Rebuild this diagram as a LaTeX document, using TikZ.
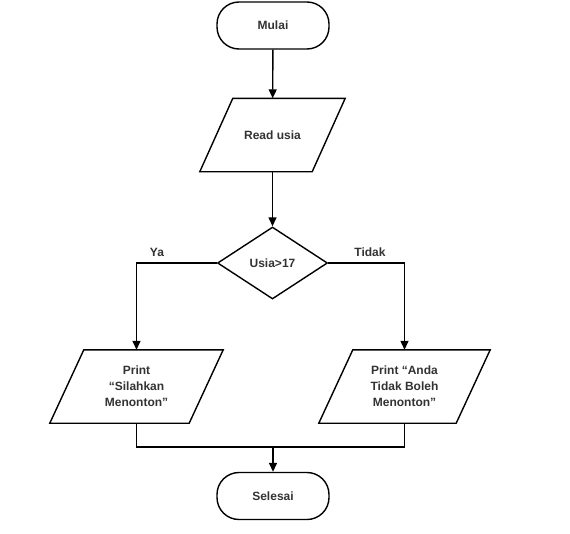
\documentclass[tikz,border=0pt]{standalone}
\usepackage{fontspec}
\setmainfont{Liberation Sans}
\usetikzlibrary{arrows.meta,shapes.geometric,calc}
\definecolor{txt}{HTML}{333333}
\tikzset{
  x=1pt, y=-1pt,
  every node/.style={font=\bfseries\fontsize{12}{16}\selectfont, text=txt, align=center},
  term/.style={draw, line width=1.4pt, rounded corners=22pt, minimum width=112pt, minimum height=47pt},
  iobody/.style={minimum height=73pt, inner sep=0pt},
  decbox/.style={draw, line width=1.4pt, diamond, minimum width=110pt, minimum height=72pt, aspect=1.53, inner sep=0pt},
  conn/.style={line width=1.4pt, -{Triangle[length=9pt,width=8pt]}},
  plain/.style={line width=1.4pt},
  para/.style={draw, line width=1.4pt, line join=miter}
}
\begin{document}
\begin{tikzpicture}
\useasboundingbox[fill=white] (0,0) rectangle (570,533);
\node[term] (start) at (273,25.5) {Mulai};
\node[iobody, minimum width=112pt] (read) at (272.5,135) {Read usia};
\draw[para] ($(read.north west)+(16.5,0)$) -- ($(read.north east)+(16.5,0)$) -- ($(read.south east)+(-16.5,0)$) -- ($(read.south west)+(-16.5,0)$) -- cycle;
\node[decbox] (dec) at (272.5,263) {Usia>17};
\node[iobody, minimum width=139pt] (yes) at (136.5,386.5) {Print\\“Silahkan\\Menonton”};
\draw[para] ($(yes.north west)+(17,0)$) -- ($(yes.north east)+(17,0)$) -- ($(yes.south east)+(-17,0)$) -- ($(yes.south west)+(-17,0)$) -- cycle;
\node[iobody, minimum width=137pt] (no) at (404.5,386.5) {Print “Anda\\Tidak Boleh\\Menonton”};
\draw[para] ($(no.north west)+(17,0)$) -- ($(no.north east)+(17,0)$) -- ($(no.south east)+(-17,0)$) -- ($(no.south west)+(-17,0)$) -- cycle;
\node[term] (end) at (273,496) {Selesai};
\coordinate (m) at (273,447);
\draw[conn] (start) -- (read);
\draw[conn] (read) -- (dec);
\draw[conn] (dec.west) -| (yes.north);
\draw[conn] (dec.east) -| (no.north);
\draw[plain] (yes.south) |- (m) -| (no.south);
\draw[conn] (m) -- (end.north);
\node (ya) at (157,252) {Ya};
\node (tidak) at (370,252) {Tidak};
\end{tikzpicture}
\end{document}
